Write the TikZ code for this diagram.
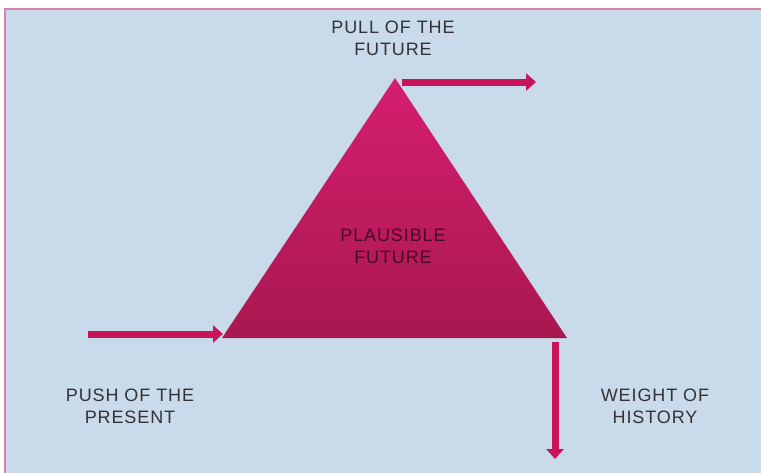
\documentclass[tikz,border=0pt]{standalone}
\usepackage{fontspec}
\setmainfont[LetterSpace=5]{Liberation Sans}
\usetikzlibrary{arrows.meta,positioning}

\definecolor{skyback}{RGB}{201,219,235}
\definecolor{frameline}{RGB}{220,130,170}
\definecolor{pushred}{RGB}{200,20,90}
\definecolor{tritop}{RGB}{214,30,110}
\definecolor{tribot}{RGB}{168,24,80}
\definecolor{labelgray}{RGB}{50,50,55}
\definecolor{innerlabel}{RGB}{70,12,35}

\begin{document}
\begin{tikzpicture}[x=1pt,y=-1pt]
		\tikzstyle{Label}	= [align=center, text=labelgray, font=\fontsize{18}{22}\selectfont, inner sep=0pt]
		\tikzstyle{Inner}	= [Label, text=innerlabel]
		\tikzstyle{Force}	= [line width=7pt, pushred, -{Triangle[length=10pt,width=17pt]}]

		% background and frame
		\useasboundingbox (0,0) rectangle (761,472);
		\fill [white] (0,0) rectangle (761,472);
		\filldraw [fill=skyback, draw=frameline, line width=1.5pt] (5,9) rectangle (770,480);

		% triangle corners
		\coordinate (apex) at (395,78);
		\coordinate (left) at (222,338);
		\coordinate (right) at (567,338);
		\shade [top color=tritop, bottom color=tribot] (apex) -- (right) -- (left) -- cycle;

		% arrow ends
		\coordinate (pullstart) at (402,82);
		\coordinate (pullend) at (536,82);
		\coordinate (pushstart) at (88,334);
		\coordinate (pushend) at (223,334);
		\coordinate (weightstart) at (555,342);
		\coordinate (weightend) at (555,459);

		\draw [Force] (pullstart) -- (pullend);
		\draw [Force] (pushstart) -- (pushend);
		\draw [Force] (weightstart) -- (weightend);

		\node (pull) at (393,38) [Label] {PULL OF THE\\FUTURE};
		\node (plausible) at (393,246) [Inner] {PLAUSIBLE\\FUTURE};
		\node (push) at (130,406) [Label] {PUSH OF THE\\PRESENT};
		\node (weight) at (655,406) [Label] {WEIGHT OF\\HISTORY};
\end{tikzpicture}
\end{document}
